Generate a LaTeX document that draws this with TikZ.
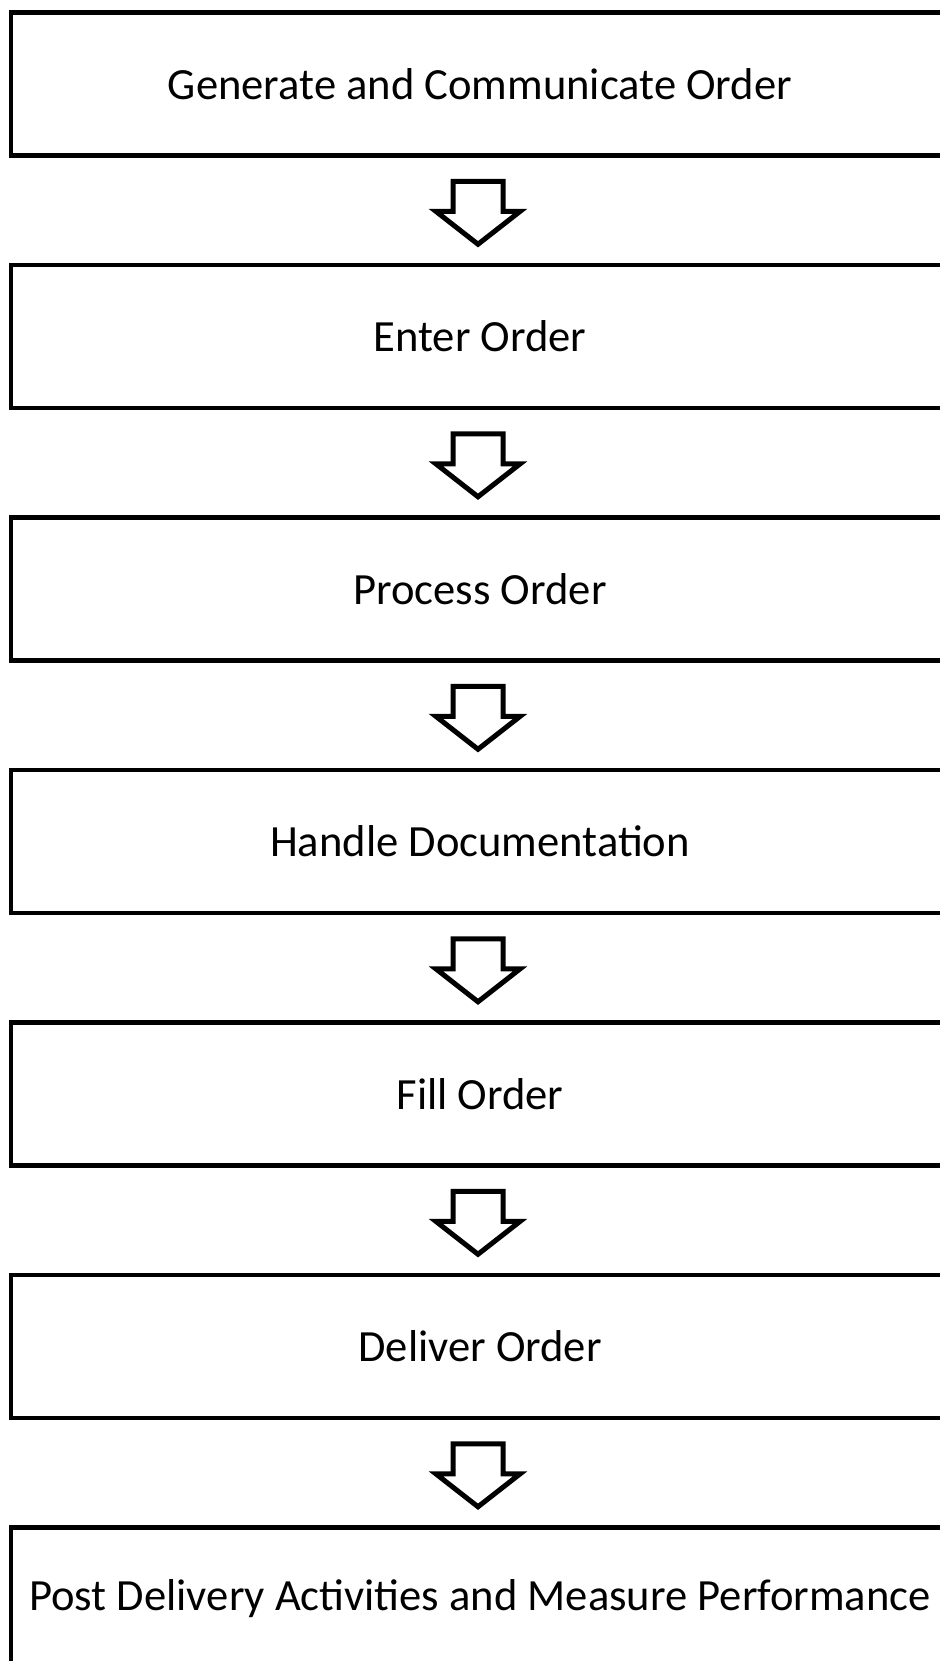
\documentclass[tikz,border=0pt]{standalone}
\usepackage{fontspec}
\setmainfont{Carlito}
\usetikzlibrary{shapes.arrows,positioning,calc}

\begin{document}
\begin{tikzpicture}[
    x=1pt, y=1pt,
    node distance=54.75pt,
    stepbox/.style={rectangle, draw=black, line width=2.25pt, outer sep=0pt, minimum width=469pt, minimum height=71.5pt, inner sep=0pt, align=center, font=\fontsize{22.3}{26}\selectfont},
    downarrow/.style={single arrow, draw=black, line width=2.5pt, fill=white, rotate=-90, anchor=tail, minimum height=31.5pt, inner xsep=0pt, inner ysep=11.25pt, single arrow head extend=8.5pt, single arrow tip angle=104},
]
\clip (0,0) rectangle (470,-830.5);

% Order steps
\node[stepbox] (generate) at (240,-42) {Generate and Communicate Order};
\node[stepbox, below=of generate] (enter) {Enter Order};
\node[stepbox, below=of enter] (process) {Process Order};
\node[stepbox, below=of process] (handle) {Handle Documentation};
\node[stepbox, below=of handle] (fill) {Fill Order};
\node[stepbox, below=of fill] (deliver) {Deliver Order};
\node[stepbox, below=of deliver] (post) {Post Delivery Activities and Measure Performance};

% Arrows between steps
\node[downarrow] (a1) at ($(generate.south)!0.5!(enter.north)+(-1,15.75)$) {};
\node[downarrow] (a2) at ($(enter.south)!0.5!(process.north)+(-1,15.75)$) {};
\node[downarrow] (a3) at ($(process.south)!0.5!(handle.north)+(-1,15.75)$) {};
\node[downarrow] (a4) at ($(handle.south)!0.5!(fill.north)+(-1,15.75)$) {};
\node[downarrow] (a5) at ($(fill.south)!0.5!(deliver.north)+(-1,15.75)$) {};
\node[downarrow] (a6) at ($(deliver.south)!0.5!(post.north)+(-1,15.75)$) {};

\end{tikzpicture}
\end{document}
